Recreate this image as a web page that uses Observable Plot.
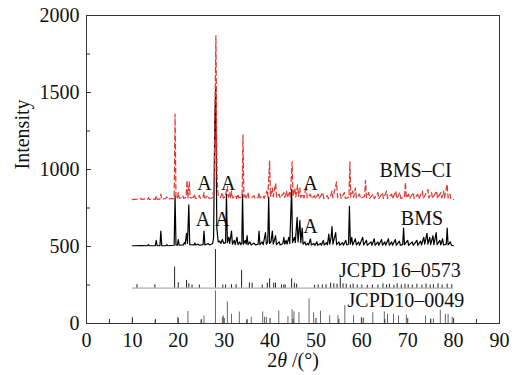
<!DOCTYPE html>
<html><head><meta charset="utf-8">
<script src="https://cdn.jsdelivr.net/npm/d3@7"></script>
<script src="https://cdn.jsdelivr.net/npm/@observablehq/plot@0.6"></script>
<style>body{margin:0;background:#fff}</style>
</head><body><div id="chart"></div>
<script>
// ---- data (2θ in degrees, intensity) ----
const bmsPoints = [[10,505],[12,506],[13.3,505],[13.5,512],[13.7,505],[15.0,505],[15.2,540],[15.4,505],[16.0,505],[16.2,600],[16.4,505],[17.3,506],[17.5,512],[17.7,505],[19.1,508],[19.3,830],[19.5,510],[19.8,508],[20.0,545],[20.2,508],[21.1,510],[21.3,525],[21.5,515],[21.8,585],[22.0,520],[22.3,770],[22.5,512],[23.4,510],[23.6,522],[23.8,510],[24.3,515],[24.6,508],[25.4,512],[25.6,600],[25.8,510],[26.5,520],[26.8,510],[27.5,520],[27.7,560],[27.95,1300],[28.15,1530],[28.4,620],[28.7,530],[29.0,535],[29.3,520],[29.6,545],[29.9,520],[30.3,525],[30.5,840],[30.7,525],[31.0,560],[31.2,520],[31.6,600],[31.8,515],[32.2,540],[32.4,512],[32.8,560],[33.0,512],[33.4,530],[33.6,512],[33.85,520],[34.0,840],[34.2,515],[34.6,540],[34.8,515],[35.0,570],[35.2,512],[35.6,530],[35.9,510],[36.5,522],[36.8,510],[37.4,515],[37.6,600],[37.8,512],[38.3,530],[38.5,512],[39.0,590],[39.2,515],[39.5,530],[39.7,820],[39.9,520],[40.2,530],[40.5,600],[40.7,515],[41.2,570],[41.4,512],[42.0,530],[42.2,510],[42.8,520],[43.0,560],[43.2,515],[43.5,540],[43.7,515],[44.1,560],[44.3,520],[44.7,870],[44.9,525],[45.3,560],[45.5,525],[45.9,690],[46.1,530],[46.5,670],[46.7,525],[47.0,620],[47.2,515],[47.6,530],[47.8,510],[48.2,520],[48.4,510],[48.8,550],[49.0,510],[49.5,520],[49.8,508],[50.2,530],[50.4,508],[51.0,520],[51.2,508],[51.6,540],[51.8,510],[52.3,525],[52.5,510],[52.8,580],[53.0,515],[53.3,560],[53.5,630],[53.7,515],[54.3,590],[54.5,512],[55.0,530],[55.2,508],[55.8,525],[56.0,508],[56.5,540],[56.7,510],[57.1,515],[57.3,760],[57.5,515],[57.8,560],[58.0,510],[58.6,550],[58.8,510],[59.3,530],[59.5,508],[60.2,560],[60.4,510],[61.0,540],[61.2,508],[62.0,530],[62.2,508],[62.7,550],[62.9,508],[63.5,530],[63.7,508],[64.3,545],[64.5,508],[65.0,530],[65.2,508],[65.8,550],[66.0,508],[66.5,530],[66.7,508],[67.3,545],[67.5,508],[68.2,535],[68.4,508],[68.9,512],[69.1,620],[69.3,512],[70.0,540],[70.2,508],[71.0,530],[71.2,508],[72.0,540],[72.2,508],[72.8,535],[73.0,510],[73.5,560],[73.7,515],[74.2,585],[74.4,515],[74.8,560],[75.0,512],[75.5,570],[75.7,512],[76.2,590],[76.4,512],[77.0,540],[77.2,510],[77.6,550],[77.8,510],[78.4,515],[78.6,620],[78.8,510],[79.3,530],[79.5,508],[80,505]];

const bmsCiPoints = [[10,805],[11,808],[11.8,812],[12,805],[12.8,810],[13.3,806],[13.5,818],[13.7,806],[14.5,808],[15.0,806],[15.2,830],[15.4,806],[16.0,808],[16.2,840],[16.4,808],[17.2,810],[17.5,822],[17.8,808],[18.5,812],[19.1,810],[19.3,1360],[19.5,815],[19.8,812],[20.0,850],[20.2,812],[20.8,818],[21.0,830],[21.2,812],[21.7,820],[21.9,930],[22.1,815],[22.4,920],[22.6,815],[23.3,820],[23.5,840],[23.7,812],[24.4,815],[24.6,832],[24.8,812],[25.4,818],[25.6,850],[25.8,815],[26.5,830],[26.7,812],[27.4,815],[27.6,850],[27.8,830],[28.05,1500],[28.2,1870],[28.45,950],[28.7,825],[29.2,818],[29.6,850],[29.8,815],[30.2,822],[30.7,890],[30.9,820],[31.2,850],[31.4,815],[31.6,860],[31.8,815],[32.5,830],[32.7,812],[33.0,840],[33.2,815],[33.9,822],[34.1,1225],[34.3,820],[34.6,840],[34.8,815],[35.2,850],[35.4,815],[36.0,818],[36.5,830],[36.7,812],[37.4,818],[37.6,850],[37.8,815],[38.5,830],[38.7,812],[39.3,860],[39.5,820],[39.9,1055],[40.1,825],[40.5,880],[40.7,822],[41.2,910],[41.4,820],[42.0,840],[42.2,815],[43.0,850],[43.2,818],[43.6,860],[43.8,818],[44.2,850],[44.4,820],[44.8,1050],[45.0,825],[45.4,880],[45.6,820],[46.0,900],[46.2,825],[46.5,880],[46.7,818],[47.2,840],[47.4,815],[47.9,900],[48.1,815],[48.8,840],[49.0,812],[49.7,830],[49.9,810],[50.5,840],[50.7,812],[51.5,850],[51.7,812],[52.5,830],[52.7,810],[53.2,830],[53.5,860],[53.7,815],[54.5,920],[54.7,818],[55.3,840],[55.5,812],[56.2,850],[56.4,812],[57.2,820],[57.4,1050],[57.6,820],[58.0,860],[58.2,818],[58.6,880],[58.8,815],[59.5,840],[59.7,812],[60.6,825],[60.8,930],[61.0,818],[61.5,850],[61.7,812],[62.5,840],[62.7,810],[63.5,850],[63.7,810],[64.5,850],[64.7,812],[65.4,860],[65.6,812],[66.5,840],[66.7,810],[67.4,860],[67.6,812],[68.3,850],[68.5,812],[69.3,820],[69.5,918],[69.7,815],[70.2,840],[70.4,810],[71.2,850],[71.4,810],[72.2,840],[72.4,810],[73.2,860],[73.4,812],[74.4,870],[74.6,815],[75.2,850],[75.4,812],[76.3,860],[76.5,812],[77.2,850],[77.4,815],[77.8,860],[78.0,815],[78.6,905],[78.8,815],[79.2,840],[79.4,810],[80,805]];

const jcpd16Base = 230;
const jcpd16Pos = [11.0,14.9,19.2,20.0,21.8,22.3,23.0,24.6,28.1,29.7,30.3,31.6,32.6,33.8,35.5,36.1,38.3,39.4,39.9,40.8,41.2,42.5,43.0,43.3,44.7,45.3,45.8,49.7,50.5,51.4,52.2,53.2,53.9,54.6,55.3,55.9,56.6,57.5,58.1,59.0,60.0,61.2,62.3,63.5,64.6,65.4,66.0,67.0,67.7,68.6,69.4,70.1,71.0,72.0,73.1,74.0,74.9,75.6,76.6,77.5,78.6,79.6];
const jcpd16Int = [252,252,366,265,280,258,250,250,480,250,250,252,252,345,262,262,250,262,290,262,262,250,250,250,290,262,255,248,250,250,252,262,258,255,295,258,255,250,255,250,250,248,250,250,258,250,255,248,258,250,255,252,250,255,250,256,250,252,258,250,255,252];

const jcpd10Pos = [10.0,15.0,19.9,22.1,25.0,25.6,28.1,29.6,29.8,30.7,31.6,33.3,34.9,35.9,38.4,38.8,39.2,41.9,43.9,44.8,45.2,46.3,48.5,49.5,51.0,53.0,54.8,56.3,58.2,59.9,60.4,62.4,64.9,65.6,66.9,68.0,69.7,73.9,75.0,75.6,77.1,78.2,78.8,79.7];
const jcpd10Int = [41,20,40,78,20,50,212,40,50,140,60,75,20,40,75,40,40,80,45,90,75,70,160,70,80,50,50,117,50,40,35,70,75,60,60,50,55,50,30,30,85,60,60,40];

const seriesLabels = ["BMS–CI", "BMS", "JCPD 16–0573", "JCPD10–0049"];
const seriesLabelX = [71.7, 73.1, 68.3, 69.6];
const seriesLabelY = [994, 682, 344, 149];

const markLabel = "A";
const markX = [25.7, 30.9, 48.8, 25.4, 29.6, 48.8];
const markY = [909, 909, 909, 675, 675, 630];

const xTicks = d3.range(0, 91, 10);
const xMinorTicks = d3.range(5, 90, 10);
const yTicks = d3.range(0, 2001, 500);
const yMinorTicks = d3.range(250, 2000, 500);

// ---- chart ----
const W = 525, H = 375, mL = 86, mR = 26, mT = 15, mB = 52;
const pw = W - mL - mR, ph = H - mT - mB;
const red = "#e5352d";

const bms = bmsPoints.map(([x, y]) => ({x, y}));
const bmsCi = bmsCiPoints.map(([x, y]) => ({x, y}));
const j16 = jcpd16Pos.map((x, i) => ({x, y: jcpd16Int[i]}));
const j10 = jcpd10Pos.map((x, i) => ({x, y: jcpd10Int[i]}));
const labs = seriesLabels.map((t, i) => ({t, x: seriesLabelX[i], y: seriesLabelY[i]}));
const marks = markX.map((x, i) => ({t: markLabel, x, y: markY[i]}));

const chart = Plot.plot({
  width: W, height: H,
  marginLeft: mL, marginRight: mR, marginTop: mT, marginBottom: mB,
  style: {fontFamily: "Liberation Serif", fontSize: "20px", color: "#111", background: "#fff"},
  x: {domain: [0, 90]},
  y: {domain: [0, 2000]},
  marks: [
    Plot.ruleX(j10, {x: "x", y1: 0, y2: "y", stroke: "#666", strokeWidth: 1}),
    Plot.ruleY([jcpd16Base], {x1: 10, x2: 80, stroke: "#999", strokeWidth: 1}),
    Plot.ruleX(j16, {x: "x", y1: jcpd16Base, y2: "y", stroke: "#222", strokeWidth: 1}),
    Plot.line(bms, {x: "x", y: "y", stroke: "#000", strokeWidth: 1.2}),
    Plot.line(bmsCi, {x: "x", y: "y", stroke: red, strokeWidth: 1.2, strokeDasharray: "5,3"}),
    Plot.text(labs, {x: "x", y: "y", text: "t", fill: "#111", fontSize: 20}),
    Plot.text(marks, {x: "x", y: "y", text: "t", fill: "#111", fontSize: 20}),
    Plot.tickX(xTicks, {x: d => d, insetTop: ph - 5, stroke: "#333"}),
    Plot.tickX(xMinorTicks, {x: d => d, insetTop: ph - 4, stroke: "#333"}),
    Plot.tickY(yTicks, {y: d => d, insetRight: pw - 5, stroke: "#333"}),
    Plot.tickY(yMinorTicks, {y: d => d, insetRight: pw - 4, stroke: "#333"}),
    Plot.axisX({ticks: xTicks, tickSize: 0, tickPadding: 9, label: null, fontSize: 20, tickFormat: d3.format("d")}),
    Plot.axisY({ticks: yTicks, tickSize: 0, tickPadding: 7, label: null, fontSize: 20, tickFormat: d3.format("d")}),
    Plot.frame({stroke: "#333", strokeWidth: 1}),
    Plot.text(["Intensity"], {frameAnchor: "left", dx: -64, rotate: -90, fontSize: 20, fill: "#111"}),
    Plot.text(["2θ /(°)"], {frameAnchor: "bottom", dy: 43, fontSize: 20, fill: "#111"})
  ]
});
document.getElementById("chart").appendChild(chart);
// italicize θ in the x-axis label
chart.querySelectorAll("text").forEach(t => {
  if (t.textContent === "2θ /(°)") {
    t.textContent = "";
    const ns = "http://www.w3.org/2000/svg";
    const a = document.createElementNS(ns, "tspan"); a.textContent = "2";
    const b = document.createElementNS(ns, "tspan"); b.textContent = "θ"; b.setAttribute("font-style", "italic");
    const c = document.createElementNS(ns, "tspan"); c.textContent = " /(°)";
    t.append(a, b, c);
  }
});
</script>
</body></html>
